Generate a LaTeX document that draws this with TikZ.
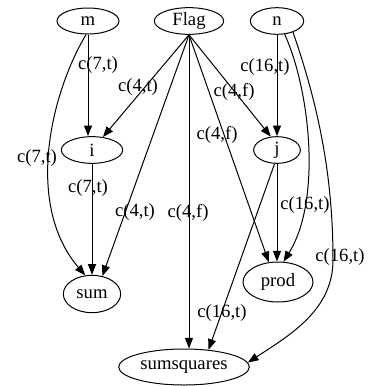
\documentclass[tikz,border=0pt]{standalone}
\usepackage{fontspec}
\setmainfont{Liberation Serif}
\usetikzlibrary{shapes.geometric,arrows.meta}

\begin{document}
\begin{tikzpicture}[
    x=0.75pt, y=-0.75pt,
    font=\fontsize{14}{16}\selectfont,
    var/.style={ellipse, draw=black, line width=0.75pt, inner sep=0pt, text centered},
    arrow/.style={-{Triangle[length=8pt,width=6pt]}, line width=0.75pt},
    lbl/.style={inner sep=0pt},
]
\useasboundingbox (0,0) rectangle (373,386);

\node[var, minimum width=46.5pt, minimum height=19.5pt] (m) at (88,21) {m};
\node[var, minimum width=52pt, minimum height=20pt] (flag) at (189,21) {Flag};
\node[var, minimum width=40pt, minimum height=20pt] (n) at (277,21) {n};
\node[var, minimum width=46pt, minimum height=20pt] (i) at (92,150) {i};
\node[var, minimum width=35pt, minimum height=20pt] (j) at (277,150) {j};
\node[var, minimum width=43pt, minimum height=28pt] (sum) at (92,294) {sum};
\node[var, minimum width=52.5pt, minimum height=30pt] (prod) at (278,282) {prod};
\node[var, minimum width=98pt, minimum height=27pt] (sumsquares) at (184,367) {sumsquares};

\draw[arrow] (m.south) -- (i.north -| m.south) node[lbl] (l1) at (98,65) {c(7,t)};
\draw[arrow] (m.262) .. controls (50,95) and (25,205) .. (sum.110) node[lbl] (l2) at (37,158) {c(7,t)};
\draw[arrow] (i.south) -- (sum.north) node[lbl] (l3) at (88,188) {c(7,t)};
\draw[arrow] (flag.south) -- (i) node[lbl] (l4) at (138,87) {c(4,t)};
\draw[arrow] (flag.south) -- (sum.60) node[lbl] (l5) at (135,212) {c(4,t)};
\draw[arrow] (flag.south) -- (flag.south |- sumsquares.north) node[lbl] (l6) at (188,213) {c(4,f)};
\draw[arrow] (flag.south) -- (prod.115) node[lbl] (l7) at (217,135) {c(4,f)};
\draw[arrow] (flag.south) -- (j.115) node[lbl] (l8) at (234,92) {c(4,f)};
\draw[arrow] (n.south) -- (j.north) node[lbl] (l9) at (265,67) {c(16,t)};
\draw[arrow] (n.300) .. controls (310,90) and (322,200) .. (prod.75) node[lbl] (l10) at (305,205) {c(16,t)};
\draw[arrow] (j.south) -- (prod.north -| j.south);
\draw[arrow] (n.325) .. controls (320,110) and (333,180) .. (333,260)
    .. controls (333,310) and (290,335) .. (sumsquares.4) node[lbl] (l11) at (340,257) {c(16,t)};
\draw[arrow] (j.260) -- (sumsquares.35) node[lbl] (l12) at (222,313) {c(16,t)};

\end{tikzpicture}
\end{document}
